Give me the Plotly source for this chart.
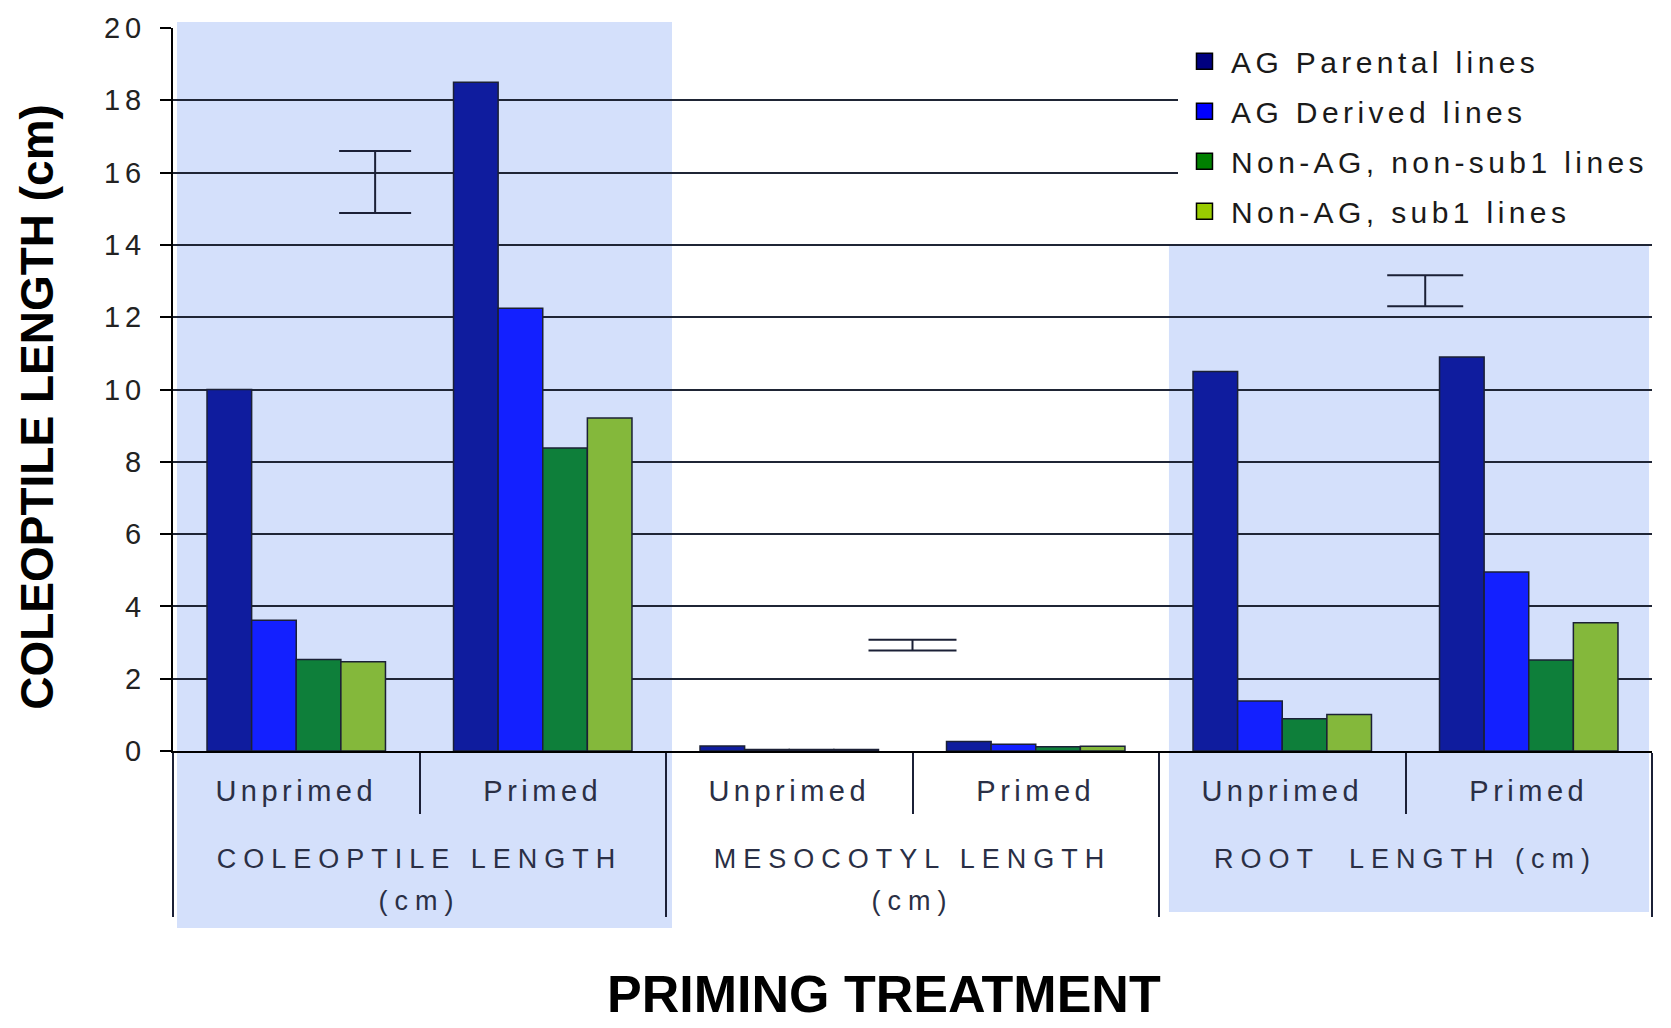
import plotly.graph_objects as go

# ---- data -------------------------------------------------------------
groups = ["COLEOPTILE LENGTH<br>(cm)", "MESOCOTYL LENGTH<br>(cm)", "ROOT\u00a0 LENGTH (cm)"]
treatments = ["Unprimed", "Primed"]

series_names = ["AG Parental lines", "AG Derived lines",
                "Non-AG, non-sub1 lines", "Non-AG, sub1 lines"]

# order: coleoptile (unprimed, primed), mesocotyl (...), root (...)
ag_parental = [10.0, 18.5, 0.14, 0.26, 10.5, 10.9]
ag_derived = [3.62, 12.25, 0.04, 0.19, 1.38, 4.95]
non_ag_non_sub1 = [2.53, 8.38, 0.04, 0.12, 0.89, 2.52]
non_ag_sub1 = [2.47, 9.21, 0.04, 0.13, 1.01, 3.55]

# floating LSD bars (category-index position, centre, half range)
lsd_x = [0.32, 2.5, 4.58]
lsd_center = [15.74, 2.93, 12.73]
lsd_half = [0.86, 0.15, 0.43]

y_ticks = list(range(0, 21, 2))

# ---- styling ------------------------------------------------------------
bar_colors = ["#0F1C9E", "#1320FF", "#0E7F3A", "#84B83B"]
key_colors = ["#000080", "#0000FF", "#008000", "#99CC00"]
outline = "#1B2036"
panel_fill = "#D4E0FB"
FONT = "Liberation Sans"


def spaced(text, px, size=None):
    style = f"letter-spacing:{px}px"
    if size:
        style += f";font-size:{size}px"
    return f'<span style="{style}">{text}</span>'


outer = [spaced(g, 7, 27) for g in groups for _ in treatments]
# an empty second line leaves room between the two label rows
inner = [spaced(t, 4.5, 29) + "<br>\u00a0" for _ in groups for t in treatments]
x_cat = [outer, inner]

series_values = [ag_parental, ag_derived, non_ag_non_sub1, non_ag_sub1]

fig = go.Figure()

for name, vals, col in zip(series_names, series_values, bar_colors):
    fig.add_trace(go.Bar(
        x=x_cat, y=vals, name=name, showlegend=False,
        marker=dict(color=col, line=dict(color=outline, width=1.5)),
    ))

# legend keys
for name, col in zip(series_names, key_colors):
    fig.add_trace(go.Scatter(
        x=[None], y=[None], xaxis="x2", mode="markers",
        name=spaced(name, 4.4), legendgroup=name,
        marker=dict(symbol="square", size=16, color=col,
                    line=dict(color="black", width=1.5)),
    ))

# LSD bars
cap_half = [36, 44, 38]
for xv, yc, hr, cw in zip(lsd_x, lsd_center, lsd_half, cap_half):
    fig.add_trace(go.Scatter(
        x=[xv], y=[yc], xaxis="x2", mode="markers", showlegend=False,
        hoverinfo="skip",
        marker=dict(size=1, color="rgba(0,0,0,0)"),
        error_y=dict(type="data", array=[hr], width=cw, thickness=2,
                     color=outline),
    ))

# shaded panels behind the coleoptile and root groups
shapes = [
    dict(type="rect", xref="paper", yref="paper", layer="below",
         x0=0.0027, x1=0.3374, y0=-0.2448, y1=1.0083,
         fillcolor=panel_fill, line=dict(width=0)),
    dict(type="rect", xref="paper", yref="paper", layer="below",
         x0=0.6734, x1=0.998, y0=-0.2228, y1=0.6984,
         fillcolor=panel_fill, line=dict(width=0)),
]

fig.update_layout(
    width=1671, height=1028,
    margin=dict(l=173, r=19, t=24, b=277),
    paper_bgcolor="white", plot_bgcolor="rgba(0,0,0,0)",
    barmode="group", bargap=0.276, bargroupgap=0,
    shapes=shapes,
    showlegend=True,
    legend=dict(x=0.6795, y=0.990, xanchor="left", yanchor="top",
                bgcolor="white", borderwidth=0, tracegroupgap=8,
                itemwidth=43,
                font=dict(family=FONT, size=30, color="#1A1A1A")),
    xaxis=dict(type="multicategory", showline=True, linecolor="black",
               linewidth=2, ticks="outside", ticklen=61, tickwidth=2,
               tickcolor=outline, showdividers=True, dividercolor=outline,
               dividerwidth=2, showgrid=False, zeroline=False,
               ticklabelstandoff=10,
               tickfont=dict(family=FONT, size=32, color="#2A2F45")),
    xaxis2=dict(overlaying="x", range=[-0.5, 5.5], visible=False),
    yaxis=dict(range=[0, 20], tickvals=y_ticks,
               ticktext=[spaced(str(v), 5) for v in y_ticks],
               showline=True, linecolor="black", linewidth=2,
               ticks="outside", ticklen=11, tickwidth=2, tickcolor="black",
               showgrid=True, gridcolor="#1F2535", gridwidth=2,
               zeroline=False, ticklabelstandoff=8,
               tickfont=dict(family=FONT, size=29, color="#222222")),
    annotations=[
        dict(text="<b>COLEOPTILE LENGTH (cm)</b>", textangle=-90,
             xref="paper", yref="paper", x=-0.092, y=0.476,
             showarrow=False, xanchor="center", yanchor="middle",
             font=dict(family=FONT, size=46, color="black")),
        dict(text="<b>PRIMING TREATMENT</b>",
             xref="paper", yref="paper", x=0.4807, y=-0.3356,
             showarrow=False, xanchor="center", yanchor="middle",
             font=dict(family=FONT, size=52, color="black")),
    ],
)

fig.write_html("out.html")
